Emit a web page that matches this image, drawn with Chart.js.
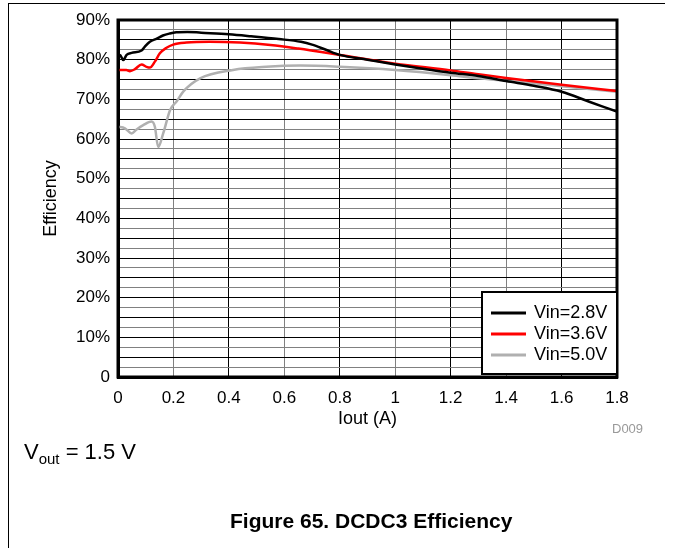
<!DOCTYPE html>
<html>
<head>
<meta charset="utf-8">
<script src="https://cdn.jsdelivr.net/npm/chart.js@4.4.1/dist/chart.umd.min.js"></script>
<style>
  body { margin: 0; background: #fff; }
  #wrap { position: relative; width: 673px; height: 548px; font-family: "Liberation Sans", Arial, sans-serif; color: #000; }
  #frame { position: absolute; left: 8px; top: 3px; width: 656px; height: 545px; border-top: 1px solid #000; border-left: 1px solid #000; }
  canvas { position: absolute; left: 0; top: 0; }
  .note { position: absolute; white-space: nowrap; line-height: 1; }
  .note sub { font-size: 15px; vertical-align: -5px; line-height: 1; }
</style>
</head>
<body>
<div id="wrap">
  <div id="frame"></div>
  <canvas id="effChart" width="673" height="548"></canvas>
  <div class="note" style="left:612px;top:422px;font-size:13px;color:#999;">D009</div>
  <div class="note" style="left:24px;top:441px;font-size:22px;">V<sub>out</sub> = 1.5 V</div>
  <div class="note" style="left:230px;top:510px;font-size:21px;font-weight:bold;">Figure 65. DCDC3 Efficiency</div>
</div>
<script>
// Iout (A) / efficiency (%)
const iout28 = [0, 0.007, 0.019, 0.031, 0.049, 0.085, 0.097, 0.115, 0.14, 0.162, 0.187, 0.21, 0.25, 0.30, 0.40, 0.48, 0.58, 0.66, 0.70, 0.75, 0.80, 0.90, 1.00, 1.10, 1.20, 1.30, 1.40, 1.50, 1.60, 1.70, 1.80];
const eff28  = [80.0, 81.2, 79.9, 81.2, 81.7, 82.3, 83.3, 84.5, 85.3, 86.1, 86.6, 86.9, 87.0, 86.8, 86.4, 85.9, 85.2, 84.5, 83.8, 82.5, 81.2, 80.0, 78.8, 77.7, 76.7, 75.9, 74.6, 73.4, 71.9, 69.4, 66.9];

const iout36 = [0, 0.03, 0.043, 0.061, 0.085, 0.103, 0.115, 0.133, 0.151, 0.175, 0.199, 0.247, 0.33, 0.44, 0.55, 0.65, 0.80, 1.00, 1.20, 1.30, 1.40, 1.60, 1.80];
const eff36  = [77.4, 77.4, 77.1, 77.6, 78.8, 78.2, 78.0, 79.5, 81.6, 83.0, 83.8, 84.3, 84.5, 84.3, 83.7, 82.8, 81.2, 79.0, 77.3, 76.3, 75.4, 73.7, 72.1];

const iout50 = [0, 0.025, 0.049, 0.067, 0.091, 0.121, 0.133, 0.145, 0.163, 0.188, 0.212, 0.236, 0.296, 0.415, 0.535, 0.657, 0.80, 1.00, 1.20, 1.30, 1.40, 1.60, 1.80];
const eff50  = [63.1, 62.7, 61.4, 62.4, 63.5, 64.4, 63.1, 58.0, 61.4, 67.3, 69.5, 72.0, 75.3, 77.4, 78.2, 78.5, 78.2, 77.4, 76.1, 75.3, 74.7, 73.3, 71.9];

const seriesLabels = ['Vin=2.8V', 'Vin=3.6V', 'Vin=5.0V'];
const seriesColors = ['#000000', '#ff0000', '#b0b0b0'];

const xTicks = [0, 0.2, 0.4, 0.6, 0.8, 1, 1.2, 1.4, 1.6, 1.8];
const yMajor = [0, 10, 20, 30, 40, 50, 60, 70, 80, 90];

const FONT = '"Liberation Sans", Arial, sans-serif';

function pts(xs, ys) {
    return xs.map((x, i) => ({ x: x, y: ys[i] }));
}

// thick frame round the plot area
const plotFrame = {
    id: 'plotFrame',
    afterDatasetsDraw(chart) {
        const a = chart.chartArea;
        const c = chart.ctx;
        c.save();
        c.strokeStyle = '#000';
        c.lineWidth = 3;
        c.strokeRect(a.left, a.top, a.right - a.left, a.bottom - a.top);
        c.restore();
    }
};

// boxed legend in the lower right corner of the plot
const boxLegend = {
    id: 'boxLegend',
    afterDraw(chart) {
        const a = chart.chartArea;
        const c = chart.ctx;
        const w = 135, h = 82;
        const x0 = a.right - w, y0 = a.bottom - h - 3;
        c.save();
        c.fillStyle = '#fff';
        c.fillRect(x0, y0, w, h);
        c.strokeStyle = '#000';
        c.lineWidth = 2;
        c.strokeRect(x0, y0, w, h);
        c.font = '18px ' + FONT;
        c.textBaseline = 'middle';
        chart.data.datasets.forEach((ds, i) => {
            const y = y0 + 21 + i * 21;
            c.strokeStyle = ds.borderColor;
            c.lineWidth = 3;
            c.beginPath();
            c.moveTo(x0 + 9, y);
            c.lineTo(x0 + 44, y);
            c.stroke();
            c.fillStyle = '#000';
            c.fillText(ds.label, x0 + 52, y);
        });
        c.restore();
    }
};

const ctx = document.getElementById('effChart').getContext('2d');

new Chart(ctx, {
    type: 'line',
    data: {
        datasets: [
            { label: seriesLabels[0], data: pts(iout28, eff28), borderColor: seriesColors[0] },
            { label: seriesLabels[1], data: pts(iout36, eff36), borderColor: seriesColors[1] },
            { label: seriesLabels[2], data: pts(iout50, eff50), borderColor: seriesColors[2] }
        ]
    },
    options: {
        responsive: false,
        animation: false,
        devicePixelRatio: 1,
        layout: { padding: { top: 20, right: 56, bottom: 108, left: 0 } },
        elements: {
            point: { radius: 0 },
            line: { borderWidth: 2.5, cubicInterpolationMode: 'monotone', fill: false }
        },
        plugins: {
            legend: { display: false },
            tooltip: { enabled: false }
        },
        scales: {
            x: {
                type: 'linear',
                min: 0,
                max: 1.8,
                afterBuildTicks: scale => { scale.ticks = xTicks.map(v => ({ value: v })); },
                afterFit: scale => { scale.height = 63; },
                ticks: {
                    autoSkip: false,
                    maxRotation: 0,
                    padding: 11,
                    color: '#000',
                    font: { family: FONT, size: 17 },
                    callback: v => String(Number(v.toFixed(1)))
                },
                grid: {
                    drawTicks: false,
                    lineWidth: 1,
                    color: c => (c.index % 2 === 0 ? '#000' : '#808080')
                },
                border: { display: true, color: '#000', width: 3 },
                title: {
                    display: true,
                    text: 'Iout (A)',
                    color: '#000',
                    font: { family: FONT, size: 18 },
                    padding: { top: 0, bottom: 10 }
                }
            },
            y: {
                min: 0,
                max: 90,
                afterFit: scale => { scale.width = 118; },
                ticks: {
                    stepSize: 2.5,
                    autoSkip: false,
                    padding: 8,
                    color: '#000',
                    font: { family: FONT, size: 17 },
                    callback: v => (yMajor.includes(v) ? (v === 0 ? '0' : v + '%') : '')
                },
                grid: {
                    drawTicks: false,
                    lineWidth: 1,
                    color: c => (c.index % 2 === 0 ? '#000' : '#808080')
                },
                border: { display: true, color: '#000', width: 3 },
                title: {
                    display: true,
                    text: 'Efficiency',
                    color: '#000',
                    font: { family: FONT, size: 18 },
                    padding: { top: 40, bottom: 0 }
                }
            }
        }
    },
    plugins: [plotFrame, boxLegend]
});
</script>
</body>
</html>
